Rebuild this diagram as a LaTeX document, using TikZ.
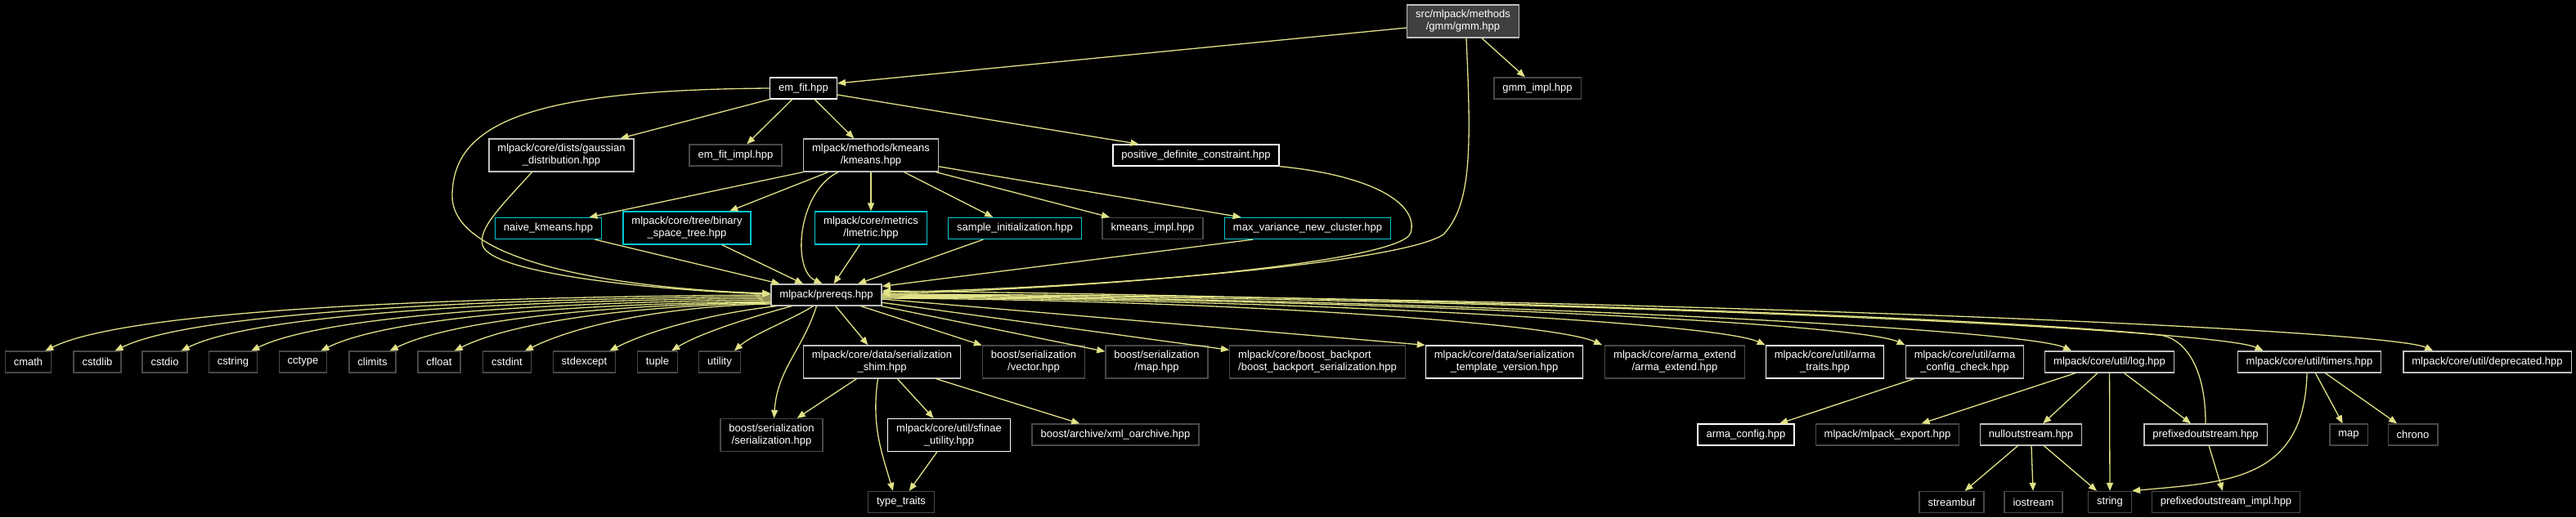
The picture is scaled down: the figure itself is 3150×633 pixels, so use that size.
\documentclass[tikz,border=0pt]{standalone}
\usepackage{fontspec}
\setmainfont{Liberation Sans}
\usetikzlibrary{arrows.meta}
\definecolor{edgecol}{RGB}{225,225,135}
\definecolor{lightbox}{RGB}{191,191,191}
\definecolor{darkbox}{RGB}{72,72,72}
\definecolor{cyanbox}{RGB}{0,200,210}
\definecolor{rootfill}{RGB}{64,64,64}
\begin{document}
\begin{tikzpicture}[x=1pt, y=-1pt, font=\fontsize{13}{15}\selectfont,
  file/.style={rectangle, draw, line width=1.3pt, text=white, fill=black, align=center,
    inner xsep=10.5pt, inner ysep=2pt, minimum height=26pt},
  tall/.style={minimum height=40pt},
  doc/.style={file, draw=white},
  part/.style={file, draw=lightbox},
  ext/.style={file, draw=darkbox},
  tree/.style={file, draw=cyanbox},
  inc/.style={draw=edgecol, line width=1.3pt, -{Triangle[length=10pt, width=8pt]}}]
  % black page
  \fill[black] (0,0) rectangle (3150,633);
  \useasboundingbox (0,0) rectangle (3150,633);
  % the file itself and what it includes
  \node[part, tall, fill=rootfill] (gmm) at (1789,26) {src/mlpack/methods\\/gmm/gmm.hpp};
  \node[doc] (emfit) at (982.5,108) {em\_fit.hpp};
  \node[ext] (gmmimpl) at (1880,108) {gmm\_impl.hpp};
  \node[part, tall] (gauss) at (686.5,190) {mlpack/core/dists/gaussian\\\_distribution.hpp};
  \node[ext] (emfitimpl) at (899.5,190) {em\_fit\_impl.hpp};
  \node[part, tall] (kmeans) at (1065,190) {mlpack/methods/kmeans\\/kmeans.hpp};
  \node[doc] (pdc) at (1462.5,190) {positive\_definite\_constraint.hpp};
  % kmeans row
  \node[tree] (naive) at (670.5,279.5) {naive\_kmeans.hpp};
  \node[tree, tall] (bstree) at (840,279) {mlpack/core/tree/binary\\\_space\_tree.hpp};
  \node[tree, tall] (lmetric) at (1065,279) {mlpack/core/metrics\\/lmetric.hpp};
  \node[tree] (sampleinit) at (1241,279.5) {sample\_initialization.hpp};
  \node[ext] (kmimpl) at (1409.5,279.5) {kmeans\_impl.hpp};
  \node[tree] (maxvar) at (1599,279.5) {max\_variance\_new\_cluster.hpp};
  \node[part] (prereqs) at (1010.5,361) {mlpack/prereqs.hpp};
  % prereqs row
  \node[ext] (cmath) at (34.5,443) {cmath};
  \node[ext] (cstdlib) at (119,443) {cstdlib};
  \node[ext] (cstdio) at (201.5,443) {cstdio};
  \node[ext] (cstring) at (285,443) {cstring};
  \node[ext] (cctype) at (370.5,443) {cctype};
  \node[ext] (climits) at (455.5,443) {climits};
  \node[ext] (cfloat) at (537,443) {cfloat};
  \node[ext] (cstdint) at (620,443) {cstdint};
  \node[ext] (stdexcept) at (714.5,443) {stdexcept};
  \node[ext] (tuple) at (804,443) {tuple};
  \node[ext] (utility) at (880,443) {utility};
  \node[part, tall] (shim) at (1078.5,443) {mlpack/core/data/serialization\\\_shim.hpp};
  \node[ext, tall] (bvector) at (1264,443) {boost/serialization\\/vector.hpp};
  \node[ext, tall] (bmap) at (1414.5,443) {boost/serialization\\/map.hpp};
  \node[ext, tall, align=left] (backport) at (1611,443) {mlpack/core/boost\_backport\\/boost\_backport\_serialization.hpp};
  \node[doc, tall] (tmplver) at (1839.5,443) {mlpack/core/data/serialization\\\_template\_version.hpp};
  \node[ext, tall] (armaext) at (2048,443) {mlpack/core/arma\_extend\\/arma\_extend.hpp};
  \node[doc, tall] (armatraits) at (2231.5,443) {mlpack/core/util/arma\\\_traits.hpp};
  \node[part, tall] (armacheck) at (2402.5,443) {mlpack/core/util/arma\\\_config\_check.hpp};
  \node[part] (log) at (2579.5,443) {mlpack/core/util/log.hpp};
  \node[part] (timers) at (2824,443) {mlpack/core/util/timers.hpp};
  \node[part] (deprec) at (3041.5,443) {mlpack/core/util/deprecated.hpp};
  % fourth row
  \node[ext, tall] (bserial) at (943.5,532.5) {boost/serialization\\/serialization.hpp};
  \node[doc, tall] (sfinae) at (1160.5,532.5) {mlpack/core/util/sfinae\\\_utility.hpp};
  \node[ext] (xmlarch) at (1364,532) {boost/archive/xml\_oarchive.hpp};
  \node[doc] (armacfg) at (2135,532) {arma\_config.hpp};
  \node[ext] (mlexport) at (2308,532) {mlpack/mlpack\_export.hpp};
  \node[part] (nullos) at (2483.5,532) {nulloutstream.hpp};
  \node[part] (prefixos) at (2697,532) {prefixedoutstream.hpp};
  \node[ext] (stdmap) at (2872,532) {map};
  \node[ext] (chrono) at (2950.5,532) {chrono};
  % bottom row
  \node[ext] (typetraits) at (1102,614.5) {type\_traits};
  \node[ext] (streambuf) at (2386.5,614.5) {streambuf};
  \node[ext] (iostream) at (2486.5,614.5) {iostream};
  \node[ext] (string) at (2580,614.5) {string};
  \node[ext] (prefiximpl) at (2722,614.5) {prefixedoutstream\_impl.hpp};

  % includes of gmm.hpp
  \draw[inc] ([yshift=-8pt]gmm.west) -- ([yshift=6pt]emfit.east);
  \draw[inc] (gmm) -- (gmmimpl);
  \draw[inc] ([xshift=4pt]gmm.south) .. controls (1799,180) and (1800,250) .. (1765,287)
    .. controls (1720,318) and (1400,350) .. ([yshift=3pt]prereqs.east);
  % includes of em_fit.hpp
  \draw[inc] (emfit.west) .. controls (650,110) and (553,150) .. (553,240)
    .. controls (553,330) and (800,355) .. ([yshift=2pt]prereqs.west);
  \draw[inc] (emfit.south west) -- ([xshift=72pt]gauss.north);
  \draw[inc] (emfit) -- (emfitimpl);
  \draw[inc] (emfit) -- (kmeans);
  \draw[inc] ([yshift=-8pt]emfit.east) -- ([xshift=-70pt]pdc.north);
  \draw[inc] ([xshift=-36pt]gauss.south) .. controls (610,255) and (585,280) .. (590,300)
    .. controls (600,335) and (800,355) .. ([yshift=1pt]prereqs.west);
  \draw[inc] (pdc.south east) .. controls (1680,215) and (1735,250) .. (1725,285)
    .. controls (1715,318) and (1400,350) .. ([yshift=1pt]prereqs.east);
  % includes of kmeans.hpp
  \draw[inc] (kmeans.south west) -- ([xshift=50pt]naive.north);
  \draw[inc] (kmeans) -- (bstree);
  \draw[inc] (kmeans) -- (lmetric);
  \draw[inc] (kmeans) -- (sampleinit);
  \draw[inc] (kmeans) -- (kmimpl);
  \draw[inc] (kmeans) -- (maxvar);
  \draw[inc] ([xshift=-40pt]kmeans.south) .. controls (975,235) and (968,330) .. ([xshift=-5pt]prereqs.north);
  \draw[inc] (naive) -- (prereqs);
  \draw[inc] (bstree) -- (prereqs);
  \draw[inc] (lmetric) -- (prereqs);
  \draw[inc] (sampleinit) -- (prereqs);
  \draw[inc] ([xshift=-67pt]maxvar.south) -- ([yshift=-3pt]prereqs.north east);
  % includes of prereqs.hpp, left side
  \draw[inc] (prereqs.west) .. controls +(-310,2) and +(110,-55) .. ([xshift=-8pt]cmath.north east);
  \draw[inc] ([yshift=-2pt]prereqs.west) .. controls +(-280,2) and +(105,-52) .. ([xshift=-8pt]cstdlib.north east);
  \draw[inc] ([yshift=-4pt]prereqs.west) .. controls +(-250,2) and +(100,-50) .. ([xshift=-8pt]cstdio.north east);
  \draw[inc] ([yshift=-6pt]prereqs.west) .. controls +(-220,2) and +(95,-47) .. ([xshift=-8pt]cstring.north east);
  \draw[inc] ([yshift=-8pt]prereqs.west) .. controls +(-190,2) and +(90,-45) .. ([xshift=-8pt]cctype.north east);
  \draw[inc] ([yshift=-9pt]prereqs.west) .. controls +(-160,2) and +(85,-42) .. ([xshift=-8pt]climits.north east);
  \draw[inc] ([yshift=-10pt]prereqs.west) .. controls +(-135,2) and +(80,-40) .. ([xshift=-8pt]cfloat.north east);
  \draw[inc] ([yshift=-11pt]prereqs.west) .. controls +(-105,2) and +(75,-37) .. ([xshift=-8pt]cstdint.north east);
  \draw[inc] ([xshift=7pt]prereqs.south west) .. controls +(-70,8) and +(55,-28) .. ([xshift=-8pt]stdexcept.north east);
  \draw[inc] ([xshift=26pt]prereqs.south west) .. controls +(-45,12) and +(35,-22) .. ([xshift=-8pt]tuple.north east);
  \draw[inc] ([xshift=52pt]prereqs.south west) .. controls +(-25,16) and +(22,-20) .. ([xshift=-8pt]utility.north east);
  \draw[inc] ([xshift=-12pt]prereqs.south) .. controls +(-18,55) and +(4,-60) .. ([xshift=3pt]bserial.north);
  % includes of prereqs.hpp, right side
  \draw[inc] (prereqs) -- (shim);
  \draw[inc] (prereqs) -- (bvector);
  \draw[inc] (prereqs) -- (bmap);
  \draw[inc] (prereqs) -- (backport);
  \draw[inc] ([yshift=-5pt]prereqs.east) -- (tmplver.north west);
  \draw[inc] ([yshift=-4pt]prereqs.east) .. controls +(400,2) and +(-60,-28) .. ([xshift=-3pt]armaext.north west);
  \draw[inc] ([yshift=-3pt]prereqs.east) .. controls +(490,2) and +(-60,-28) .. (armatraits.north west);
  \draw[inc] ([yshift=-2pt]prereqs.east) .. controls +(560,2) and +(-60,-28) .. (armacheck.north west);
  \draw[inc] ([yshift=-1pt]prereqs.east) .. controls +(650,2) and +(-60,-28) .. ([xshift=33pt]log.north west);
  \draw[inc] (prereqs.east) .. controls +(760,2) and +(-60,-28) .. ([xshift=32pt]timers.north west);
  \draw[inc] ([yshift=1pt]prereqs.east) .. controls +(850,2) and +(-60,-28) .. ([xshift=37pt]deprec.north west);
  % lower includes
  \draw[inc] (shim) -- (bserial);
  \draw[inc] ([xshift=-5pt]shim.south) .. controls +(-8,55) and +(-15,-50) .. ([xshift=-10pt]typetraits.north);
  \draw[inc] (shim) -- (sfinae);
  \draw[inc] (shim) -- (xmlarch);
  \draw[inc] (sfinae) -- (typetraits);
  \draw[inc] (armacheck) -- (armacfg);
  \draw[inc] (log) -- (mlexport);
  \draw[inc] (log) -- (nullos);
  \draw[inc] (log) -- (string);
  \draw[inc] (log) -- (prefixos);
  \draw[inc] (prefixos.north) .. controls (2697,440) and (2665,412) .. (2640,410)
    .. controls (2400,385) and (1600,362) .. ([yshift=5pt]prereqs.east);
  \draw[inc] (prefixos) -- (prefiximpl);
  \draw[inc] (nullos) -- (streambuf);
  \draw[inc] (nullos) -- (iostream);
  \draw[inc] (nullos) -- (string);
  \draw[inc] ([xshift=-3pt]timers.south) .. controls (2818,590) and (2720,590) .. (string.north east);
  \draw[inc] (timers) -- (stdmap);
  \draw[inc] (timers) -- (chrono);
\end{tikzpicture}
\end{document}
